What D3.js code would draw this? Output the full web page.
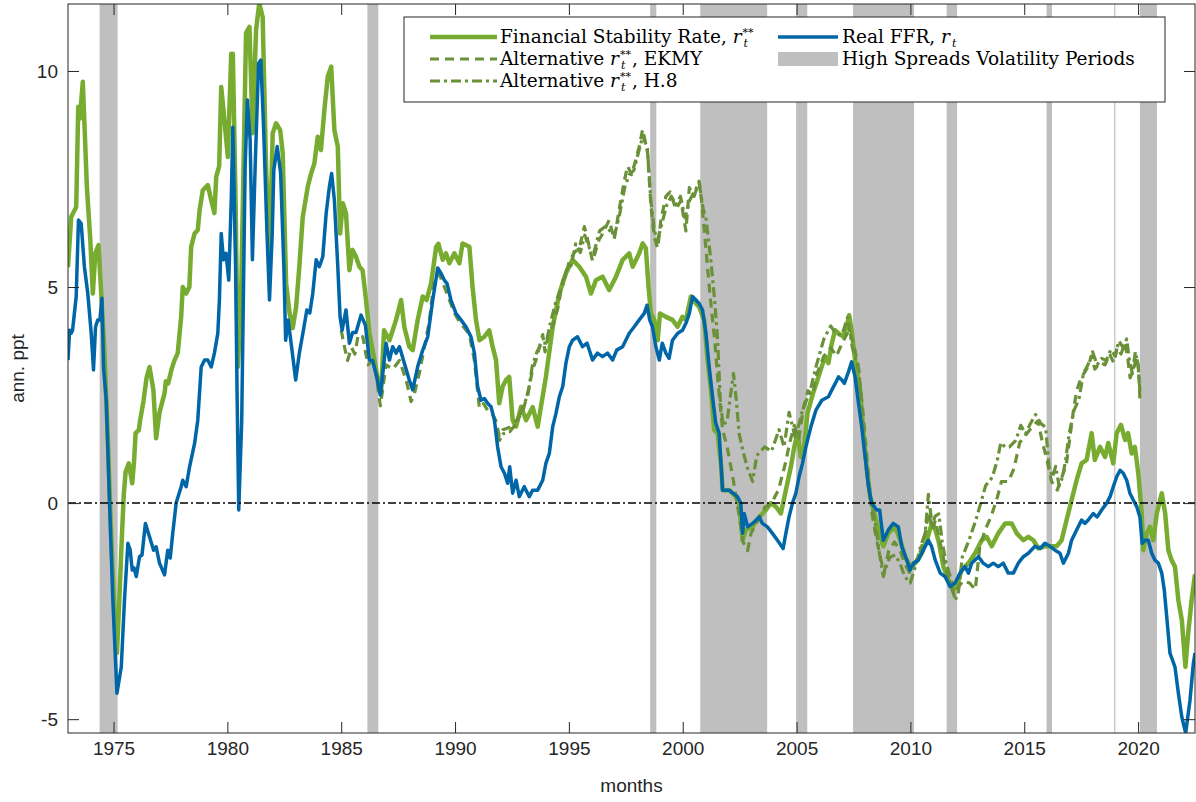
<!DOCTYPE html>
<html>
<head>
<meta charset="utf-8">
<script src="https://cdn.jsdelivr.net/npm/d3@7"></script>
<style>
  body { margin: 0; background: #fff; }
  svg { display: block; }
  .tick text { font-family: "Liberation Sans", Arial, sans-serif; font-size: 19px; fill: #262626; }
</style>
</head>
<body>
<div id="chart"></div>
<script>
// high spreads volatility periods [start, end]
var shadedPeriods = [[1974.39, 1975.18], [1986.15, 1986.63], [1998.57, 1998.84], [2000.77, 2003.71],
  [2004.98, 2005.47], [2007.48, 2010.16], [2011.59, 2012.05], [2015.98, 2016.22],
  [2018.95, 2019.0], [2020.08, 2020.83]]

var xTicks = [1975, 1980, 1985, 1990, 1995, 2000, 2005, 2010, 2015, 2020]
var yTicks = [-5, 0, 5, 10]

// financial stability rate r**  [year, value]
var fsr = [[1973.0,5.46],[1973.14,6.62],[1973.36,6.85],[1973.45,9.17],[1973.52,8.9],[1973.65,9.75],[1973.83,7.31],[1973.98,6.09],[1974.09,4.85],[1974.2,5.78],[1974.34,5.97],[1974.46,4.85],[1974.6,3.5],[1974.75,1.5],[1974.9,-0.8],[1975.05,-2.6],[1975.15,-3.47],[1975.25,-2.3],[1975.36,-0.86],[1975.45,0.2],[1975.53,0.72],[1975.67,0.92],[1975.82,0.46],[1975.9,0.95],[1975.97,1.62],[1976.11,1.69],[1976.17,1.92],[1976.32,2.38],[1976.45,2.9],[1976.58,3.15],[1976.75,2.62],[1976.87,1.5],[1977.02,2.1],[1977.24,2.54],[1977.3,2.82],[1977.4,2.77],[1977.55,3.1],[1977.68,3.31],[1977.82,3.47],[1977.97,4.31],[1978.04,5.0],[1978.19,4.85],[1978.33,5.0],[1978.41,5.93],[1978.56,6.24],[1978.7,6.32],[1978.78,6.78],[1978.92,7.24],[1979.14,7.36],[1979.29,7.01],[1979.43,6.71],[1979.51,7.55],[1979.64,7.8],[1979.73,9.63],[1979.87,8.87],[1980.02,8.01],[1980.17,10.4],[1980.24,10.4],[1980.36,7.0],[1980.46,3.15],[1980.6,4.7],[1980.82,10.88],[1980.97,11.02],[1981.11,8.56],[1981.26,10.95],[1981.4,11.57],[1981.55,11.25],[1981.7,7.78],[1981.85,5.63],[1981.99,8.56],[1982.14,8.79],[1982.32,8.63],[1982.43,8.1],[1982.58,5.09],[1982.73,4.4],[1982.87,4.05],[1983.02,4.54],[1983.16,5.47],[1983.31,6.62],[1983.53,7.32],[1983.68,7.63],[1983.82,7.86],[1983.97,8.48],[1984.11,8.17],[1984.26,9.1],[1984.41,9.87],[1984.56,10.1],[1984.7,8.63],[1984.85,8.25],[1984.95,6.24],[1985.07,6.94],[1985.21,6.71],[1985.36,5.39],[1985.5,5.86],[1985.65,5.7],[1985.8,5.47],[1985.94,5.39],[1986.09,4.7],[1986.24,3.93],[1986.46,3.31],[1986.68,2.62],[1986.75,2.54],[1986.88,4.0],[1987.12,3.77],[1987.41,4.24],[1987.63,4.7],[1987.77,4.08],[1987.99,3.62],[1988.14,3.54],[1988.36,4.24],[1988.58,4.78],[1988.75,4.7],[1988.95,5.09],[1989.17,5.93],[1989.27,6.0],[1989.46,5.63],[1989.6,5.78],[1989.75,5.55],[1989.97,5.78],[1990.19,5.55],[1990.33,6.01],[1990.63,5.93],[1990.77,5.0],[1990.92,4.24],[1991.07,3.77],[1991.29,3.85],[1991.5,4.0],[1991.65,3.62],[1991.8,3.31],[1991.94,2.31],[1992.09,2.7],[1992.24,2.85],[1992.38,2.92],[1992.53,1.92],[1992.68,1.77],[1992.9,2.23],[1993.12,1.92],[1993.41,2.22],[1993.63,1.77],[1993.77,2.22],[1993.99,2.92],[1994.29,4.08],[1994.58,4.85],[1994.87,5.32],[1995.16,5.63],[1995.46,5.47],[1995.75,5.24],[1995.97,4.85],[1996.19,5.16],[1996.48,5.24],[1996.77,4.93],[1997.07,5.24],[1997.36,5.63],[1997.65,5.78],[1997.8,5.47],[1998.09,5.78],[1998.24,6.01],[1998.38,5.9],[1998.5,5.0],[1998.6,4.4],[1998.75,4.24],[1998.9,3.77],[1999.0,4.39],[1999.26,4.31],[1999.55,4.24],[1999.77,4.08],[1999.99,4.31],[2000.14,4.24],[2000.36,4.78],[2000.58,4.62],[2000.72,4.54],[2000.94,4.24],[2001.09,3.31],[2001.24,2.62],[2001.38,1.69],[2001.53,1.62],[2001.7,0.8],[2001.75,0.3],[2002.04,0.3],[2002.33,0.15],[2002.48,-0.03],[2002.63,-0.86],[2002.77,-0.62],[2003.07,-0.55],[2003.36,-0.32],[2003.65,-0.16],[2003.87,0.0],[2004.09,-0.08],[2004.31,-0.24],[2004.53,0.3],[2004.75,0.84],[2004.9,1.3],[2005.04,1.62],[2005.19,1.07],[2005.33,1.3],[2005.48,2.08],[2005.7,2.5],[2005.96,2.92],[2006.25,3.39],[2006.4,3.24],[2006.55,3.7],[2006.69,4.0],[2006.84,3.93],[2007.06,3.85],[2007.2,4.08],[2007.31,4.35],[2007.42,4.0],[2007.57,3.31],[2007.79,2.62],[2007.94,1.62],[2008.08,0.84],[2008.23,0.15],[2008.38,-0.16],[2008.6,-0.62],[2008.81,-1.0],[2009.03,-0.7],[2009.33,-0.55],[2009.55,-0.86],[2009.77,-1.24],[2009.99,-1.47],[2010.2,-1.39],[2010.5,-1.16],[2010.72,-0.86],[2010.94,-0.47],[2011.05,-0.55],[2011.23,-0.86],[2011.45,-1.47],[2011.67,-1.78],[2011.89,-2.01],[2012.03,-1.93],[2012.25,-1.55],[2012.55,-1.39],[2012.84,-1.16],[2013.13,-0.86],[2013.35,-0.78],[2013.57,-1.0],[2013.86,-0.7],[2014.16,-0.47],[2014.45,-0.47],[2014.67,-0.7],[2014.96,-0.86],[2015.18,-0.78],[2015.4,-0.86],[2015.62,-1.05],[2015.91,-1.0],[2016.2,-1.0],[2016.42,-1.0],[2016.64,-0.86],[2016.86,-0.39],[2017.08,0.07],[2017.3,0.53],[2017.52,0.92],[2017.74,1.0],[2017.96,1.62],[2018.1,1.0],[2018.33,1.3],[2018.55,1.07],[2018.69,1.39],[2018.91,0.92],[2019.06,1.62],[2019.25,1.81],[2019.43,1.46],[2019.56,1.62],[2019.72,1.15],[2019.86,1.3],[2020.01,0.69],[2020.16,-0.24],[2020.23,-1.09],[2020.38,-0.7],[2020.52,-0.55],[2020.67,-0.86],[2020.82,-0.24],[2021.04,0.23],[2021.19,-0.24],[2021.33,-1.09],[2021.47,-1.32],[2021.62,-1.47],[2021.77,-2.25],[2021.92,-2.7],[2022.08,-3.79],[2022.2,-3.01],[2022.35,-2.25],[2022.5,-1.65]]

// alternative r**, EKMY
var ekmy = [[1985.0,4.0],[1985.15,3.6],[1985.28,3.3],[1985.45,3.6],[1985.6,3.45],[1985.75,3.9],[1985.95,3.85],[1986.17,3.2],[1986.4,3.3],[1986.55,2.9],[1986.72,2.25],[1986.97,3.2],[1987.26,3.1],[1987.56,3.3],[1987.85,2.85],[1988.07,2.35],[1988.2,2.5],[1988.43,3.0],[1988.65,3.6],[1988.87,4.2],[1989.09,5.2],[1989.31,5.3],[1989.53,5.0],[1989.75,4.7],[1989.97,4.4],[1990.19,4.2],[1990.41,4.05],[1990.63,3.9],[1990.85,3.3],[1991.07,2.2],[1991.25,2.3],[1991.43,2.15],[1991.65,2.05],[1991.8,1.9],[1991.94,1.55],[1992.1,1.7],[1992.38,1.75],[1992.68,1.9],[1992.97,2.1],[1993.26,2.7],[1993.41,3.1],[1993.55,3.3],[1993.7,3.6],[1993.85,3.9],[1993.95,3.5],[1994.1,3.9],[1994.29,4.1],[1994.51,4.5],[1994.73,5.15],[1994.85,5.25],[1995.02,5.6],[1995.24,5.8],[1995.46,5.9],[1995.68,6.4],[1995.8,6.15],[1996.04,5.6],[1996.33,6.1],[1996.5,6.25],[1996.77,6.55],[1996.99,6.1],[1997.21,6.8],[1997.43,7.45],[1997.58,7.8],[1997.75,7.6],[1997.94,7.95],[1998.09,8.25],[1998.24,8.65],[1998.46,8.1],[1998.6,6.9],[1998.75,6.15],[1998.9,5.9],[1999.04,6.55],[1999.26,7.1],[1999.45,7.2],[1999.7,6.8],[1999.92,7.0],[2000.14,6.3],[2000.29,7.3],[2000.5,7.1],[2000.72,7.45],[2000.85,6.9],[2001.0,6.0],[2001.2,4.8],[2001.4,3.8],[2001.55,2.8],[2001.75,1.7],[2001.95,1.3],[2002.2,0.6],[2002.45,-0.2],[2002.65,-0.9],[2002.85,-1.1],[2003.0,-0.7],[2003.3,-0.4],[2003.6,-0.1],[2003.9,0.0],[2004.2,0.3],[2004.5,0.9],[2004.7,1.4],[2004.9,1.8],[2005.1,1.5],[2005.3,2.2],[2005.5,2.6],[2005.7,2.5],[2005.9,3.0],[2006.2,3.4],[2006.5,3.6],[2006.75,3.4],[2007.0,3.7],[2007.3,4.0],[2007.5,3.7],[2007.7,3.2],[2007.9,2.2],[2008.1,1.0],[2008.3,-0.2],[2008.5,-0.8],[2008.7,-1.3],[2008.85,-1.6],[2009.05,-1.1],[2009.3,-0.9],[2009.55,-1.1],[2009.75,-1.4],[2009.95,-1.6],[2010.2,-1.4],[2010.45,-1.1],[2010.65,-0.7],[2010.8,-0.2],[2010.95,-0.6],[2011.1,-0.4],[2011.3,-0.9],[2011.5,-1.4],[2011.7,-1.8],[2011.9,-2.1],[2012.1,-1.95],[2012.3,-1.8],[2012.6,-1.85],[2012.85,-2.0],[2013.05,-1.0],[2013.3,-0.6],[2013.55,-0.3],[2013.8,0.1],[2014.0,0.5],[2014.3,0.5],[2014.55,0.8],[2014.8,1.4],[2015.1,1.6],[2015.4,1.8],[2015.6,1.9],[2015.8,1.4],[2016.0,1.0],[2016.2,0.5],[2016.45,0.3],[2016.65,0.6],[2016.85,0.9],[2017.0,1.5],[2017.15,2.1],[2017.3,2.6],[2017.5,2.9],[2017.74,3.1],[2017.96,3.4],[2018.1,3.1],[2018.33,3.25],[2018.55,3.2],[2018.75,3.45],[2018.93,3.25],[2019.08,3.6],[2019.25,3.45],[2019.43,3.7],[2019.56,3.3],[2019.65,2.9],[2019.8,3.1],[2019.94,3.4],[2020.02,3.1],[2020.08,2.4]]

// alternative r**, H.8
var h8 = [[1991.8,1.6],[1991.95,1.45],[1992.1,1.6],[1992.4,1.65],[1992.7,1.85],[1992.95,2.2],[1993.2,2.5],[1993.4,3.2],[1993.6,3.5],[1993.8,3.7],[1994.0,3.7],[1994.2,4.2],[1994.45,4.7],[1994.7,5.0],[1994.9,5.4],[1995.1,5.5],[1995.3,6.0],[1995.5,5.8],[1995.7,6.2],[1995.9,5.9],[1996.1,5.8],[1996.35,6.3],[1996.6,6.4],[1996.8,6.3],[1997.0,6.2],[1997.2,6.6],[1997.45,7.3],[1997.65,7.6],[1997.85,7.7],[1998.05,8.1],[1998.25,8.5],[1998.45,8.2],[1998.6,7.0],[1998.75,6.3],[1998.9,6.1],[1999.05,6.4],[1999.3,6.9],[1999.5,7.1],[1999.7,6.9],[1999.9,7.1],[2000.1,6.6],[2000.3,7.0],[2000.5,7.2],[2000.72,7.4],[2000.9,6.8],[2001.02,6.6],[2001.24,5.6],[2001.4,4.7],[2001.53,3.8],[2001.65,2.4],[2001.77,1.8],[2001.95,1.9],[2002.1,2.5],[2002.23,3.0],[2002.35,2.4],[2002.48,1.6],[2002.65,1.2],[2002.85,0.8],[2003.07,0.5],[2003.25,1.1],[2003.6,1.3],[2003.9,1.2],[2004.23,1.7],[2004.45,1.3],[2004.67,2.1],[2004.95,1.5],[2005.26,2.15],[2005.6,2.6],[2005.85,3.15],[2006.2,3.8],[2006.5,4.1],[2006.75,3.9],[2007.0,3.9],[2007.24,4.3],[2007.45,3.6],[2007.73,3.1],[2007.9,1.8],[2008.05,0.85],[2008.23,0.1],[2008.4,-0.3],[2008.52,-0.7],[2008.65,-1.2],[2008.81,-1.7],[2008.95,-1.45],[2009.1,-1.25],[2009.33,-1.2],[2009.55,-1.4],[2009.75,-1.7],[2009.99,-1.85],[2010.2,-1.5],[2010.45,-1.0],[2010.65,-0.7],[2010.79,0.2],[2010.95,-0.5],[2011.09,-0.3],[2011.25,-0.25],[2011.4,-0.9],[2011.55,-1.35],[2011.75,-1.7],[2011.96,-2.25],[2012.1,-2.1],[2012.28,-1.25],[2012.58,-0.85],[2012.87,-0.4],[2013.09,0.0],[2013.3,0.4],[2013.6,0.6],[2013.82,1.0],[2013.97,1.4],[2014.15,1.3],[2014.35,1.3],[2014.63,1.45],[2014.85,1.8],[2015.05,1.6],[2015.28,1.85],[2015.5,2.05],[2015.72,1.85],[2015.94,1.75],[2016.09,0.85],[2016.24,0.6],[2016.38,0.85],[2016.53,0.4],[2016.68,0.6],[2016.82,1.0],[2016.97,1.6],[2017.19,2.15],[2017.4,2.4],[2017.6,3.0],[2017.8,3.2],[2018.0,3.5],[2018.2,3.2],[2018.4,3.35],[2018.6,3.3],[2018.8,3.55],[2019.0,3.4],[2019.15,3.75],[2019.35,3.6],[2019.5,3.8],[2019.62,3.3],[2019.75,3.0],[2019.88,3.5],[2020.0,3.2],[2020.08,2.6]]

// real FFR r_t
var ffr = [[1973.0,3.31],[1973.07,4.0],[1973.14,3.93],[1973.2,4.0],[1973.36,4.78],[1973.46,6.55],[1973.58,6.47],[1973.72,5.47],[1973.87,4.85],[1974.02,3.93],[1974.12,3.08],[1974.21,4.08],[1974.31,4.24],[1974.4,4.24],[1974.49,4.74],[1974.56,3.15],[1974.68,2.38],[1974.82,0.07],[1974.97,-2.25],[1975.15,-4.4],[1975.34,-3.79],[1975.48,-2.25],[1975.63,-0.93],[1975.73,-1.08],[1975.82,-1.55],[1975.9,-1.5],[1976.0,-1.7],[1976.14,-1.24],[1976.25,-1.2],[1976.4,-0.47],[1976.58,-0.78],[1976.76,-1.09],[1976.87,-1.01],[1977.02,-1.39],[1977.24,-1.66],[1977.38,-1.09],[1977.49,-1.27],[1977.6,-0.7],[1977.75,0.0],[1977.97,0.38],[1978.04,0.53],[1978.19,0.38],[1978.34,0.84],[1978.56,1.38],[1978.7,1.92],[1978.85,3.15],[1979.0,3.31],[1979.14,3.31],[1979.29,3.15],[1979.43,3.47],[1979.58,3.93],[1979.65,4.7],[1979.73,6.24],[1979.83,5.63],[1979.94,5.78],[1980.06,5.16],[1980.17,7.01],[1980.24,8.7],[1980.36,5.47],[1980.43,2.38],[1980.5,-0.16],[1980.63,1.92],[1980.78,7.78],[1980.88,9.33],[1981.0,8.4],[1981.1,5.63],[1981.22,7.78],[1981.37,10.18],[1981.47,10.25],[1981.6,8.56],[1981.74,6.24],[1981.85,4.7],[1981.97,6.24],[1982.04,7.71],[1982.19,8.25],[1982.34,7.63],[1982.48,5.47],[1982.56,3.77],[1982.67,4.24],[1982.82,3.62],[1983.0,2.85],[1983.16,3.47],[1983.34,4.0],[1983.49,4.47],[1983.62,4.4],[1983.75,4.85],[1983.9,5.63],[1984.04,5.47],[1984.19,5.7],[1984.34,6.71],[1984.48,7.32],[1984.58,7.63],[1984.7,7.01],[1984.85,5.47],[1984.95,4.31],[1985.04,4.0],[1985.21,4.47],[1985.36,3.7],[1985.5,3.95],[1985.65,3.95],[1985.87,4.35],[1986.06,4.12],[1986.24,3.31],[1986.38,3.3],[1986.56,2.92],[1986.72,2.5],[1986.97,3.7],[1987.12,3.31],[1987.26,3.62],[1987.41,3.47],[1987.56,3.62],[1987.77,3.24],[1987.99,2.85],[1988.14,2.62],[1988.36,3.16],[1988.58,3.54],[1988.8,3.85],[1989.02,4.7],[1989.24,5.44],[1989.38,5.32],[1989.53,5.16],[1989.65,5.08],[1989.82,4.7],[1990.04,4.39],[1990.26,4.24],[1990.48,4.08],[1990.7,3.85],[1990.85,3.47],[1990.99,2.7],[1991.14,2.38],[1991.29,2.42],[1991.43,2.31],[1991.58,2.23],[1991.73,1.92],[1991.87,1.3],[1992.02,0.84],[1992.17,0.69],[1992.31,0.46],[1992.4,0.84],[1992.53,0.23],[1992.68,0.53],[1992.82,0.15],[1993.04,0.38],[1993.26,0.15],[1993.41,0.3],[1993.63,0.3],[1993.85,0.53],[1993.99,0.92],[1994.14,1.15],[1994.29,1.77],[1994.43,2.07],[1994.58,2.46],[1994.73,2.7],[1994.87,3.24],[1995.02,3.62],[1995.16,3.77],[1995.38,3.85],[1995.6,3.62],[1995.8,3.7],[1996.04,3.31],[1996.25,3.47],[1996.48,3.39],[1996.7,3.47],[1996.92,3.31],[1997.1,3.54],[1997.36,3.62],[1997.65,3.93],[1997.87,4.08],[1998.09,4.24],[1998.31,4.39],[1998.43,4.58],[1998.55,4.24],[1998.67,4.08],[1998.82,3.62],[1998.97,3.31],[1999.1,3.7],[1999.26,3.47],[1999.4,3.35],[1999.55,3.77],[1999.78,3.93],[1999.99,4.0],[2000.14,4.16],[2000.29,4.39],[2000.43,4.78],[2000.58,4.7],[2000.72,4.62],[2000.87,4.47],[2001.02,3.93],[2001.16,3.16],[2001.31,2.46],[2001.45,1.85],[2001.6,1.62],[2001.75,0.3],[2002.04,0.3],[2002.2,0.23],[2002.4,0.15],[2002.55,0.0],[2002.63,-0.7],[2002.7,-0.24],[2002.85,-0.55],[2003.07,-0.47],[2003.36,-0.32],[2003.5,-0.47],[2003.72,-0.55],[2003.94,-0.7],[2004.16,-0.86],[2004.41,-1.05],[2004.53,-0.7],[2004.67,-0.32],[2004.82,0.0],[2004.97,0.23],[2005.11,0.61],[2005.26,0.92],[2005.41,1.3],[2005.63,1.77],[2005.85,2.15],[2006.11,2.38],[2006.4,2.46],[2006.55,2.62],[2006.7,2.77],[2006.84,2.92],[2006.99,2.85],[2007.1,2.77],[2007.28,3.04],[2007.42,3.27],[2007.57,2.92],[2007.72,2.31],[2007.86,1.77],[2008.01,1.07],[2008.16,0.38],[2008.3,0.0],[2008.52,-0.16],[2008.65,-0.16],[2008.81,-0.86],[2009.03,-0.62],[2009.25,-0.47],[2009.47,-0.55],[2009.62,-1.0],[2009.84,-1.32],[2009.99,-1.55],[2010.13,-1.39],[2010.35,-1.32],[2010.5,-1.16],[2010.65,-1.0],[2010.79,-0.86],[2010.93,-1.0],[2011.09,-1.32],[2011.31,-1.62],[2011.52,-1.7],[2011.74,-1.93],[2011.96,-1.85],[2012.18,-1.62],[2012.4,-1.47],[2012.55,-1.62],[2012.69,-1.39],[2012.99,-1.24],[2013.2,-1.39],[2013.42,-1.47],[2013.64,-1.39],[2013.86,-1.47],[2014.08,-1.39],[2014.3,-1.62],[2014.52,-1.62],[2014.74,-1.39],[2014.96,-1.24],[2015.18,-1.16],[2015.47,-1.0],[2015.7,-1.05],[2015.91,-0.93],[2016.13,-1.0],[2016.35,-1.09],[2016.57,-1.16],[2016.72,-1.39],[2016.94,-1.16],[2017.08,-0.86],[2017.3,-0.62],[2017.52,-0.39],[2017.66,-0.47],[2017.81,-0.39],[2018.03,-0.24],[2018.2,-0.32],[2018.4,-0.16],[2018.62,0.0],[2018.77,0.15],[2018.91,0.38],[2019.06,0.61],[2019.21,0.76],[2019.35,0.69],[2019.5,0.53],[2019.64,0.23],[2019.79,0.07],[2019.94,-0.08],[2020.08,-0.32],[2020.18,-0.93],[2020.3,-0.86],[2020.45,-0.86],[2020.6,-1.16],[2020.74,-1.32],[2020.89,-1.39],[2021.04,-1.62],[2021.15,-2.01],[2021.26,-2.64],[2021.4,-3.47],[2021.62,-3.79],[2021.77,-4.4],[2021.92,-4.95],[2022.09,-5.32],[2022.28,-4.56],[2022.43,-3.7],[2022.5,-3.47]]

const width = 1196;
const height = 802;
const plotLeft = 68, plotRight = 1195, plotTop = 4, plotBottom = 733;

const green = "#77AC30";
const olive = "#6A9038";
const blue = "#0066A8";

const svg = d3.select("#chart").append("svg")
  .attr("width", width)
  .attr("height", height)

const x = d3.scaleLinear().domain([1973, 2022.5]).range([plotLeft, plotRight]);
const y = d3.scaleLinear().domain([-5.32, 11.55]).range([plotBottom, plotTop]);

svg.append("clipPath").attr("id", "plotclip")
  .append("rect")
  .attr("x", plotLeft).attr("y", plotTop)
  .attr("width", plotRight - plotLeft).attr("height", plotBottom - plotTop)

const plot = svg.append("g").attr("clip-path", "url(#plotclip)")

// shaded periods
plot.selectAll("rect.shade")
  .data(shadedPeriods)
  .enter()
  .append("rect")
  .attr("class", "shade")
  .attr("x", d => x(d[0]))
  .attr("width", d => Math.max(1.2, x(d[1]) - x(d[0])))
  .attr("y", plotTop)
  .attr("height", plotBottom - plotTop)
  .style("fill", "#BFBFBF")

const line = d3.line()
  .x(d => x(d[0]))
  .y(d => y(d[1]))

var series = [
  { data: fsr, color: green, width: 4.5, dash: null },
  { data: ekmy, color: olive, width: 3.2, dash: "9,6" },
  { data: h8, color: olive, width: 3.2, dash: "10,4,3,4" },
  { data: ffr, color: blue, width: 3.5, dash: null }
]

plot.selectAll("path.series")
  .data(series)
  .enter()
  .append("path")
  .attr("class", "series")
  .attr("d", d => line(d.data))
  .style("fill", "none")
  .style("stroke", d => d.color)
  .style("stroke-width", d => d.width)
  .style("stroke-dasharray", d => d.dash)
  .style("stroke-linejoin", "round")

// zero line
plot.append("line")
  .attr("x1", plotLeft).attr("x2", plotRight)
  .attr("y1", y(0)).attr("y2", y(0))
  .style("stroke", "#000")
  .style("stroke-width", 1.5)
  .style("stroke-dasharray", "8,3,2,3")

// axes (MATLAB style, ticks inward, box)
const axisColor = "#262626";
const tickLen = 11;

const xAxis = svg.append("g")
  .attr("transform", `translate(0,${plotBottom})`)
  .call(d3.axisBottom(x).tickValues(xTicks).tickFormat(d => String(d))
    .tickSizeInner(-tickLen).tickSizeOuter(0).tickPadding(9))
xAxis.select(".domain").remove()
xAxis.selectAll(".tick line").style("stroke", axisColor)

const xAxisTop = svg.append("g")
  .attr("transform", `translate(0,${plotTop})`)
  .call(d3.axisTop(x).tickValues(xTicks).tickFormat("")
    .tickSizeInner(-tickLen).tickSizeOuter(0))
xAxisTop.select(".domain").remove()
xAxisTop.selectAll(".tick line").style("stroke", axisColor)

const yAxis = svg.append("g")
  .attr("transform", `translate(${plotLeft},0)`)
  .call(d3.axisLeft(y).tickValues(yTicks).tickFormat(d => String(d))
    .tickSizeInner(-tickLen).tickSizeOuter(0).tickPadding(10))
yAxis.select(".domain").remove()
yAxis.selectAll(".tick line").style("stroke", axisColor)

const yAxisRight = svg.append("g")
  .attr("transform", `translate(${plotRight},0)`)
  .call(d3.axisRight(y).tickValues(yTicks).tickFormat("")
    .tickSizeInner(-tickLen).tickSizeOuter(0))
yAxisRight.select(".domain").remove()
yAxisRight.selectAll(".tick line").style("stroke", axisColor)

svg.append("rect")
  .attr("x", plotLeft).attr("y", plotTop)
  .attr("width", plotRight - plotLeft).attr("height", plotBottom - plotTop)
  .style("fill", "none")
  .style("stroke", axisColor)
  .style("stroke-width", 1)

// axis labels
svg.append("text")
  .attr("x", (plotLeft + plotRight) / 2)
  .attr("y", 792)
  .attr("text-anchor", "middle")
  .style("font-family", "Liberation Sans, Arial, sans-serif")
  .style("font-size", "19px")
  .style("fill", axisColor)
  .text("months")

svg.append("text")
  .attr("transform", `translate(24,${(plotTop + plotBottom) / 2}) rotate(-90)`)
  .attr("text-anchor", "middle")
  .style("font-family", "Liberation Sans, Arial, sans-serif")
  .style("font-size", "19px")
  .style("fill", axisColor)
  .text("ann. ppt")

// legend
const legend = svg.append("g")
const serif = "DejaVu Serif, serif";

legend.append("rect")
  .attr("x", 404).attr("y", 17)
  .attr("width", 761).attr("height", 85)
  .style("fill", "#fff")
  .style("stroke", axisColor)
  .style("stroke-width", 1)

// draw a label made of pieces, one text element per piece
function richLabel(g, x0, y0, pieces) {
  var cx = x0;
  pieces.forEach(function(p) {
    if (p.stack) {
      var w = 0;
      if (p.stack[0]) {
        var a = g.append("text").attr("x", cx).attr("y", y0 - 7)
          .style("font-family", serif).style("font-size", "11px").text(p.stack[0])
        w = a.node().getComputedTextLength();
      }
      var b = g.append("text").attr("x", cx + 1).attr("y", y0 + 4)
        .style("font-family", serif).style("font-size", "11px").style("font-style", "italic").text(p.stack[1])
      cx += Math.max(w, b.node().getComputedTextLength() + 1) + 1;
    } else {
      var t = g.append("text").attr("x", cx).attr("y", y0)
        .style("font-family", serif).style("font-size", "18.5px")
        .style("font-style", p.italic ? "italic" : "normal")
        .style("white-space", "pre")
        .style("fill", "#000")
        .text(p.text)
      cx += t.node().getComputedTextLength() + (p.italic ? 1 : 0);
    }
  })
}

var legendLeft = [
  { pieces: [{ text: "Financial Stability Rate, " }, { text: "r", italic: true }, { stack: ["**", "t"] }],
    color: green, width: 4.5, dash: null },
  { pieces: [{ text: "Alternative " }, { text: "r", italic: true }, { stack: ["**", "t"] }, { text: ", EKMY" }],
    color: olive, width: 3.2, dash: "9,6" },
  { pieces: [{ text: "Alternative " }, { text: "r", italic: true }, { stack: ["**", "t"] }, { text: ", H.8" }],
    color: olive, width: 3.2, dash: "10,4,3,4" }
]

legendLeft.forEach(function(d, i) {
  var ly = 37 + i * 22;
  legend.append("line")
    .attr("x1", 430).attr("x2", 497)
    .attr("y1", ly).attr("y2", ly)
    .style("stroke", d.color)
    .style("stroke-width", d.width)
    .style("stroke-dasharray", d.dash)
  richLabel(legend, 500, ly + 6, d.pieces)
})

legend.append("line")
  .attr("x1", 778).attr("x2", 838)
  .attr("y1", 37).attr("y2", 37)
  .style("stroke", blue)
  .style("stroke-width", 3.5)
richLabel(legend, 842, 43, [{ text: "Real FFR, " }, { text: "r", italic: true }, { stack: ["", "t"] }])

legend.append("rect")
  .attr("x", 778).attr("y", 52)
  .attr("width", 60).attr("height", 14)
  .style("fill", "#BFBFBF")
richLabel(legend, 842, 65, [{ text: "High Spreads Volatility Periods" }])
</script>
</body>
</html>
